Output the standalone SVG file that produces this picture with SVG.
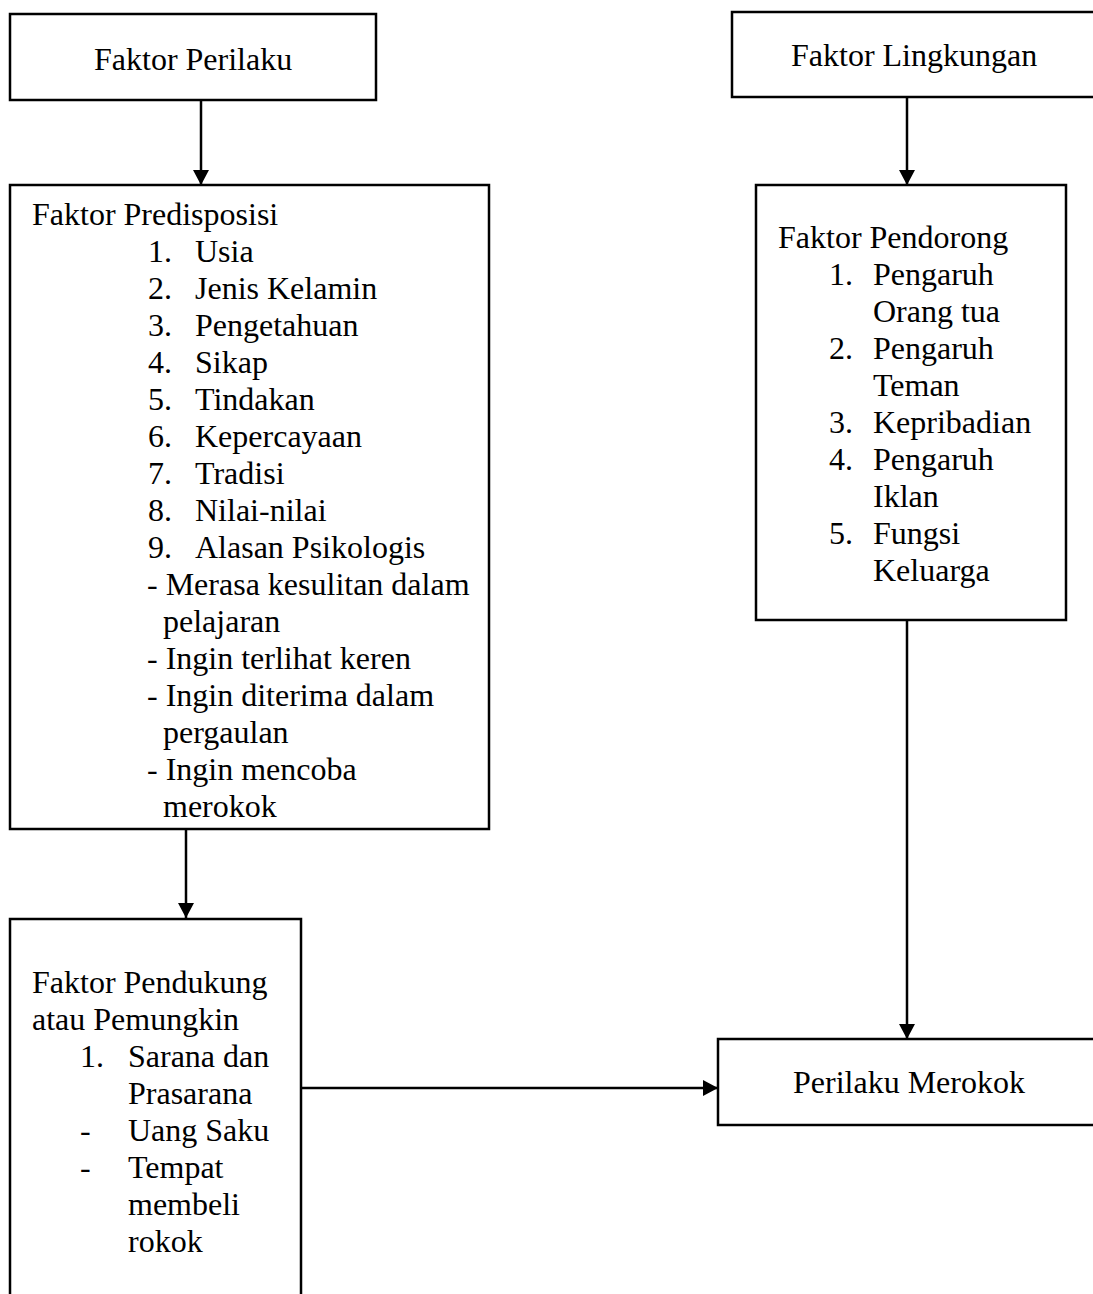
<svg xmlns="http://www.w3.org/2000/svg" width="1093" height="1294" viewBox="0 0 1093 1294">
<style>
.box{fill:#fff;stroke:#000;stroke-width:2.5}
text{font-family:"Liberation Serif","Times New Roman",serif;font-size:32px;fill:#000}
.ln{stroke:#000;stroke-width:2.5;fill:none}
</style>
<defs>
<marker id="ah" markerWidth="15" markerHeight="16" refX="15" refY="8" orient="auto" markerUnits="userSpaceOnUse">
<path d="M0,0 L15,8 L0,16 Z" fill="#000"/>
</marker>
</defs>
<rect width="1093" height="1294" fill="#fff"/>
<g id="connectors">
<line class="ln" x1="201" y1="100" x2="201" y2="185" marker-end="url(#ah)"/>
<line class="ln" x1="907" y1="98" x2="907" y2="185" marker-end="url(#ah)"/>
<line class="ln" x1="186" y1="829" x2="186" y2="918" marker-end="url(#ah)"/>
<line class="ln" x1="907" y1="620" x2="907" y2="1039" marker-end="url(#ah)"/>
<line class="ln" x1="301" y1="1088" x2="718" y2="1088" marker-end="url(#ah)"/>
</g>
<g id="faktor-perilaku">
<rect class="box" x="10" y="14" width="366" height="86"/>
<text x="94" y="70">Faktor Perilaku</text>
</g>
<g id="faktor-lingkungan">
<rect class="box" x="732" y="12" width="380" height="85"/>
<text x="791" y="66">Faktor Lingkungan</text>
</g>
<g id="faktor-predisposisi">
<rect class="box" x="10" y="185" width="479" height="644"/>
<text x="32" y="225">Faktor Predisposisi</text>
<text x="148" y="262">1.</text><text x="195" y="262">Usia</text>
<text x="148" y="299">2.</text><text x="195" y="299">Jenis Kelamin</text>
<text x="148" y="336">3.</text><text x="195" y="336">Pengetahuan</text>
<text x="148" y="373">4.</text><text x="195" y="373">Sikap</text>
<text x="148" y="410">5.</text><text x="195" y="410">Tindakan</text>
<text x="148" y="447">6.</text><text x="195" y="447">Kepercayaan</text>
<text x="148" y="484">7.</text><text x="195" y="484">Tradisi</text>
<text x="148" y="521">8.</text><text x="195" y="521">Nilai-nilai</text>
<text x="148" y="558">9.</text><text x="195" y="558">Alasan Psikologis</text>
<text x="147" y="595">- Merasa kesulitan dalam</text>
<text x="163" y="632">pelajaran</text>
<text x="147" y="669">- Ingin terlihat keren</text>
<text x="147" y="706">- Ingin diterima dalam</text>
<text x="163" y="743">pergaulan</text>
<text x="147" y="780">- Ingin mencoba</text>
<text x="163" y="817">merokok</text>
</g>
<g id="faktor-pendorong">
<rect class="box" x="756" y="185" width="310" height="435"/>
<text x="778" y="248">Faktor Pendorong</text>
<text x="829" y="285">1.</text><text x="873" y="285">Pengaruh</text>
<text x="873" y="322">Orang tua</text>
<text x="829" y="359">2.</text><text x="873" y="359">Pengaruh</text>
<text x="873" y="396">Teman</text>
<text x="829" y="433">3.</text><text x="873" y="433">Kepribadian</text>
<text x="829" y="470">4.</text><text x="873" y="470">Pengaruh</text>
<text x="873" y="507">Iklan</text>
<text x="829" y="544">5.</text><text x="873" y="544">Fungsi</text>
<text x="873" y="581">Keluarga</text>
</g>
<g id="faktor-pendukung">
<rect class="box" x="10" y="919" width="291" height="400"/>
<text x="32" y="993">Faktor Pendukung</text>
<text x="32" y="1030">atau Pemungkin</text>
<text x="80" y="1067">1.</text><text x="128" y="1067">Sarana dan</text>
<text x="128" y="1104">Prasarana</text>
<text x="80" y="1141">-</text><text x="128" y="1141">Uang Saku</text>
<text x="80" y="1178">-</text><text x="128" y="1178">Tempat</text>
<text x="128" y="1215">membeli</text>
<text x="128" y="1252">rokok</text>
</g>
<g id="perilaku-merokok">
<rect class="box" x="718" y="1039" width="400" height="86"/>
<text x="793" y="1093">Perilaku Merokok</text>
</g>
</svg>
